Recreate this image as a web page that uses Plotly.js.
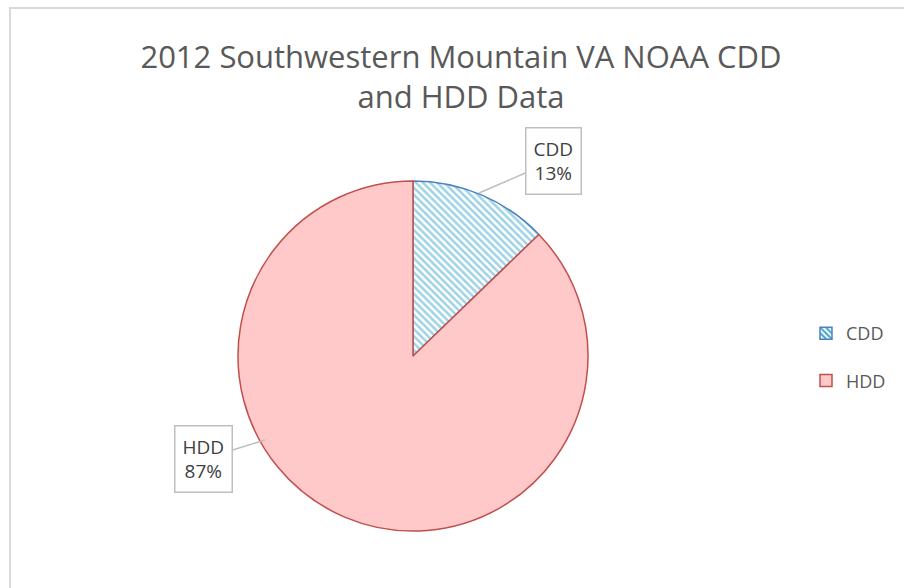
<!DOCTYPE html>
<html>
<head>
<meta charset="utf-8">
<script src="https://cdn.plot.ly/plotly-3.0.1.min.js"></script>
<style>html,body{margin:0;padding:0;background:#fff;}#chart{width:904px;height:588px;}</style>
</head>
<body>
<div id="chart"></div>
<script>
var categories = ["CDD", "HDD"];
var degreeDays = [705, 4812];
var titleText = "2012 Southwestern Mountain VA NOAA CDD<br>and HDD Data";

var total = degreeDays.reduce(function(a, b){ return a + b; }, 0);
var pct = degreeDays.map(function(v){ return Math.round(v / total * 100) + "%"; });

var W = 904, H = 588;
function px(x){ return x / W; }
function py(y){ return 1 - y / H; }

var fillColors = ["#ffffff", "#ffc9c9"];
var lineColors = ["#4f81bd", "#c0504d"];
var patShapes = ["\\", ""];

var pie = {
  type: "pie",
  labels: categories,
  values: degreeDays,
  sort: false,
  direction: "clockwise",
  rotation: 0,
  textinfo: "none",
  showlegend: false,
  hoverinfo: "label+value+percent",
  domain: {x: [px(413 - 175), px(413 + 175)], y: [py(356 + 175), py(356 - 175)]},
  marker: {
    colors: fillColors,
    line: {color: lineColors, width: 1.5},
    pattern: {shape: patShapes, fgcolor: "#3ea6cc", bgcolor: "#ffffff", size: 5, solidity: 0.5, fillmode: "overlay"}
  }
};

// legend-only entries (they draw no visible bar), one per category, so entries can be spaced like the reference
var legendTraces = categories.map(function(c, i){
  return {
    type: "bar", x: [c], y: [null], name: c, legendgroup: c, showlegend: true,
    marker: {color: fillColors[i], line: {color: lineColors[i], width: 1.5},
             pattern: {shape: patShapes[i], fgcolor: "#3ea6cc", bgcolor: "#ffffff", size: 5, solidity: 0.5}},
    hoverinfo: "skip"
  };
});

var layout = {
  width: W, height: H,
  margin: {l: 0, r: 0, t: 0, b: 0},
  paper_bgcolor: "#ffffff",
  plot_bgcolor: "rgba(0,0,0,0)",
  font: {family: "Open Sans, sans-serif", color: "#595959"},
  xaxis: {visible: false, domain: [0.9, 0.91]},
  yaxis: {visible: false, domain: [0.9, 0.91]},
  title: {
    text: titleText,
    font: {family: "Open Sans, sans-serif", size: 31, color: "#595959"},
    x: px(461), xanchor: "center",
    y: py(68), yanchor: "top", yref: "container"
  },
  showlegend: true,
  legend: {
    x: px(806), y: py(357), xanchor: "left", yanchor: "middle",
    font: {size: 18, color: "#595959"},
    tracegroupgap: 21,
    traceorder: "grouped",
    bgcolor: "rgba(0,0,0,0)"
  },
  shapes: [{
    type: "rect", xref: "paper", yref: "paper",
    x0: px(10), x1: px(960), y0: py(8), y1: py(640),
    line: {color: "#d9d9d9", width: 2}, fillcolor: "rgba(0,0,0,0)", layer: "below"
  }],
  annotations: [
    {
      xref: "paper", yref: "paper", x: px(479), y: py(193),
      text: categories[0] + "<br>" + pct[0],
      showarrow: true, arrowhead: 0, arrowcolor: "#bfbfbf", arrowwidth: 1.5,
      ax: 74, ay: -32,
      bordercolor: "#bfbfbf", borderwidth: 1.5, borderpad: 7, bgcolor: "#ffffff",
      font: {size: 19, color: "#404040"}
    },
    {
      xref: "paper", yref: "paper", x: px(265), y: py(440),
      text: categories[1] + "<br>" + pct[1],
      showarrow: true, arrowhead: 0, arrowcolor: "#bfbfbf", arrowwidth: 1.5,
      ax: -62, ay: 19,
      bordercolor: "#bfbfbf", borderwidth: 1.5, borderpad: 7, bgcolor: "#ffffff",
      font: {size: 19, color: "#404040"}
    }
  ]
};

Plotly.newPlot("chart", [pie].concat(legendTraces), layout, {displayModeBar: false, staticPlot: true});
</script>
</body>
</html>
